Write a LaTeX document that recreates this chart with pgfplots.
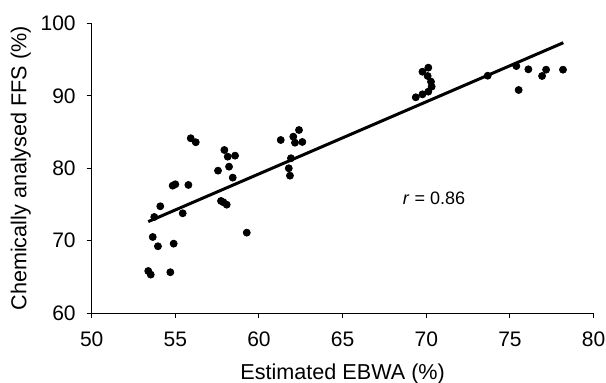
\documentclass[border=0pt]{standalone}
\usepackage{fontspec}
\setmainfont{Liberation Sans}
\usepackage{pgfplots}
\pgfplotsset{compat=1.18}
\begin{document}
\begin{tikzpicture}
\begin{axis}[
  scale only axis=true,
  width=251pt, height=145pt,
  xmin=50, xmax=80, ymin=60, ymax=100,
  axis lines=left,
  axis line style={-, line width=0.5pt},
  xtick={50,55,...,80}, ytick={60,70,...,100},
  tick align=outside, major tick length=2.5pt,
  tick style={line width=0.5pt, black},
  /pgf/number format/assume math mode=true,
  tick label style={font=\fontsize{10.5}{12}\selectfont},
  xticklabel style={yshift=-3.5pt},
  yticklabel style={xshift=-2pt},
  label style={font=\fontsize{10.8}{12}\selectfont},
  xlabel={Estimated EBWA (\%)},
  ylabel={Chemically analysed FFS (\%)},
  xlabel style={at={(axis description cs:0.5,-0.2276)}, anchor=base},
  ylabel style={at={(axis description cs:-0.1301,0.5)}, anchor=base, rotate=0},
  clip=false,
]
\addplot[only marks, mark=*, mark size=1.75pt, black] coordinates {
(55.92,84.14) (56.22,83.59) (57.93,82.52) (58.13,81.60) (58.57,81.74)
(58.21,80.22) (57.55,79.67) (58.43,78.71) (61.30,83.90) (62.05,84.36)
(62.15,83.53) (62.39,85.28) (62.59,83.63) (61.91,81.38) (61.78,80.00)
(61.85,78.98) (54.84,77.60) (55.00,77.79) (55.78,77.70) (54.10,74.76)
(53.74,73.28) (55.44,73.79) (57.73,75.49) (57.87,75.31) (58.07,74.98)
(59.27,71.12) (53.65,70.52) (53.96,69.24) (54.90,69.60) (53.38,65.83)
(53.53,65.33) (54.70,65.66)
(69.77,93.32) (70.12,93.88) (70.08,92.73) (70.28,91.95) (70.32,91.26)
(70.12,90.57) (69.77,90.20) (69.37,89.79) (73.67,92.77) (75.38,94.10)
(75.52,90.80) (76.10,93.65) (76.92,92.73) (77.16,93.60) (78.17,93.60)
};
\addplot[black, line width=1.5pt] coordinates {(53.38,72.64) (78.19,97.32)};
\node[font=\fontsize{9}{10}\selectfont] at (axis cs:70.46,75.86) {\textit{r} = 0.86};
\end{axis}
\pgfresetboundingbox
\path[use as bounding box] ([xshift=-45.85pt,yshift=-34.85pt]current axis.south west) rectangle ([xshift=6.2pt,yshift=11.65pt]current axis.north east);
\end{tikzpicture}
\end{document}
